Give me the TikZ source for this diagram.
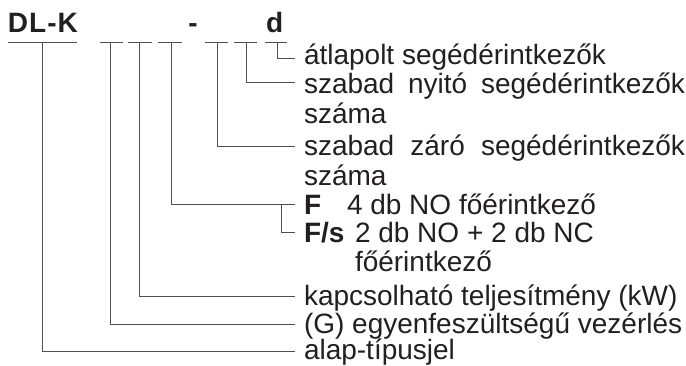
\documentclass[tikz,border=0pt]{standalone}
\usepackage{fontspec}
\setmainfont{Liberation Sans}
\definecolor{txt}{HTML}{231F20}
\definecolor{lin}{HTML}{505050}
\begin{document}
\begin{tikzpicture}[x=1pt,y=-1pt,
  lbl/.style={anchor=base west,inner sep=0pt,outer sep=0pt,font=\fontsize{28}{29}\selectfont,text=txt},
  hdr/.style={anchor=base west,inner sep=0pt,outer sep=0pt,font=\fontsize{28}{29}\selectfont\bfseries,text=txt},
  conn/.style={draw=lin,line width=0.9pt},
  uline/.style={draw=lin,line width=0.9pt}]
\useasboundingbox (0,0) rectangle (686,365);

% header
\node[hdr] (dlk) at (8,32) {D\kern1ptL\kern1pt-\kern1ptK};
\node[hdr,anchor=base] (dash) at (193,32) {-};
\node[hdr] (dd) at (266,32) {d};

% underlines
\draw[uline] (8,42) -- (77,42);
\draw[uline] (100,42) -- (123,42);
\draw[uline] (128,42) -- (152,42);
\draw[uline] (158,42) -- (182,42);
\draw[uline] (205,42) -- (228,42);
\draw[uline] (234,42) -- (257,42);
\draw[uline] (265,42) -- (287,42);

% slot coordinates
\coordinate (s1) at (42,42);
\coordinate (s2) at (110,42);
\coordinate (s3) at (139,42);
\coordinate (s4) at (171,42);
\coordinate (s5) at (217,42);
\coordinate (s6) at (246,42);
\coordinate (s7) at (277,42);

% connector ends
\coordinate (e7) at (295,58);
\coordinate (e6) at (295,82);
\coordinate (e5) at (295,146);
\coordinate (e4) at (295,204);
\coordinate (b4) at (281,204);
\coordinate (e4s) at (295,232);
\coordinate (e3) at (295,296);
\coordinate (e2) at (295,324);
\coordinate (e1) at (295,351);

% texts
\node[lbl] (t7) at (304,64) {átlapolt segédérintkezők};
\node[lbl] (t6) at (304,93) {\makebox[381pt][l]{szabad\hfill nyitó\hfill segédérintkezők}};
\node[lbl] (t6b) at (304,123) {száma};
\node[lbl] (t5) at (304,155) {\makebox[381pt][l]{szabad\hfill záró\hfill segédérintkezők}};
\node[lbl] (t5b) at (304,185) {száma};
\node[hdr] (tF) at (304,214) {F};
\node[lbl] (tFd) at (347,214) {4 db NO főérintkező};
\node[hdr] (tFs) at (304,242) {F/s};
\node[lbl] (tFsd) at (355,242) {2 db NO + 2 db NC};
\node[lbl] (tFsd2) at (355,271) {főérintkező};
\node[lbl] (t3) at (304,305) {kapcsolható teljesítmény (kW)};
\node[lbl] (t2) at (304,333) {(G) egyenfeszültségű vezérlés};
\node[lbl] (t1) at (304,359) {alap-típusjel};

% connectors
\draw[conn] (s7) |- (e7);
\draw[conn] (s6) |- (e6);
\draw[conn] (s5) |- (e5);
\draw[conn] (s4) |- (e4);
\draw[conn] (b4) |- (e4s);
\draw[conn] (s3) |- (e3);
\draw[conn] (s2) |- (e2);
\draw[conn] (s1) |- (e1);
\end{tikzpicture}
\end{document}
